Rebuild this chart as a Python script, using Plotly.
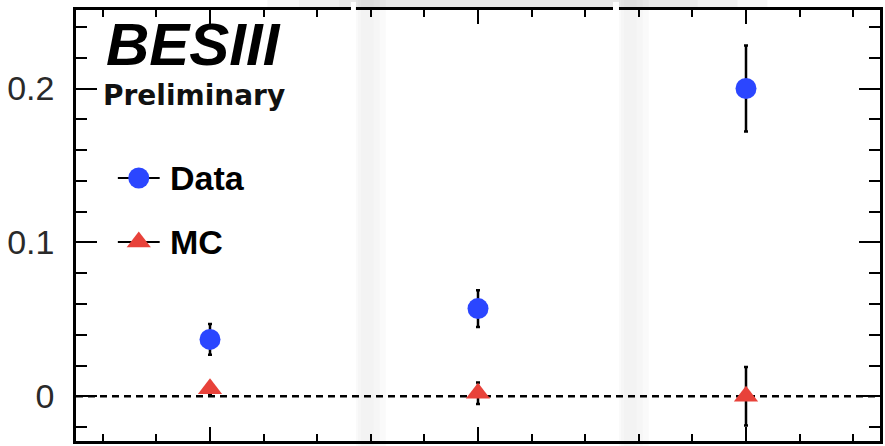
import plotly.graph_objects as go

# ---- data ----
categories = [1, 2, 3]
data_y = [0.037, 0.057, 0.200]
data_err = [0.010, 0.012, 0.028]
mc_y = [0.005, 0.002, 0.000]
mc_err = [0.004, 0.007, 0.019]
y_tickvals = [0.0, 0.1, 0.2]
y_ticktext = ["0", "0.1", "0.2"]

W, H = 885, 446
L, R, T, B = 76, 883, 10, 441  # plot area in pixels

BLUE = "#2b46ff"
RED = "#e8423a"


def px(x):
    return (x - L) / (R - L)


def py(y):
    return (B - y) / (B - T)


fig = go.Figure()

# error bars first (underneath), then the markers on top
for yv, ev in [(data_y, data_err), (mc_y, mc_err)]:
    fig.add_trace(go.Scatter(
        x=categories, y=yv, mode="markers", marker=dict(size=1, opacity=0),
        error_y=dict(type="data", array=ev, color="black", thickness=2.5, width=2),
        showlegend=False, hoverinfo="skip",
    ))
fig.add_trace(go.Scatter(
    x=categories, y=data_y, mode="markers", name="Data",
    marker=dict(symbol="circle", size=21, color=BLUE), showlegend=False,
))
fig.add_trace(go.Scatter(
    x=categories, y=mc_y, mode="markers", name="MC",
    marker=dict(symbol="triangle-up", size=21, color=RED), showlegend=False,
))

# legend markers on a pixel-coordinate overlay axis
legend_items = [("Data", "circle", BLUE, 178, 21), ("MC", "triangle-up", RED, 242, 21)]
for name, sym, col, yy, sz in legend_items:
    fig.add_shape(type="line", xref="x2", yref="y2", x0=118, x1=160, y0=yy, y1=yy,
                  line=dict(color="black", width=2), layer="below")
    fig.add_trace(go.Scatter(x=[139], y=[yy], xaxis="x2", yaxis="y2", mode="markers",
                             marker=dict(symbol=sym, size=sz, color=col), showlegend=False,
                             hoverinfo="skip"))
    fig.add_annotation(x=168, y=yy, xref="x2", yref="y2", text="<b>%s</b>" % name,
                       showarrow=False, xanchor="left", yanchor="middle",
                       font=dict(family="Liberation Sans, Arial", size=34, color="black"))

fig.add_annotation(x=104, y=44, xref="x2", yref="y2", text="<b><i>BESIII</i></b>",
                   showarrow=False, xanchor="left", yanchor="middle",
                   font=dict(family="Liberation Sans, Arial", size=60, color="black"))
fig.add_annotation(x=101, y=95, xref="x2", yref="y2", text="<b>Preliminary</b>",
                   showarrow=False, xanchor="left", yanchor="middle",
                   font=dict(family="DejaVu Sans", size=28, color="#111"))

# zero reference line (below the markers)
fig.add_hline(y=0, line=dict(color="black", width=2.5, dash="7px,5px"), layer="below")

# scan artefacts: faint grey bands, top shadow, white cuts
for x0 in [357, 621]:
    for dx0, dx1, a in [(0, 30, 0.018), (2, 24, 0.014), (5, 18, 0.012)]:
        fig.add_shape(type="rect", xref="paper", yref="paper", x0=px(x0 + dx0),
                      x1=px(x0 + dx1), y0=py(446), y1=py(0),
                      fillcolor="rgba(0,0,0,%g)" % a, line_width=0, layer="below")
for x0, x1, a in [(268, 770, 0.03), (300, 740, 0.03), (340, 700, 0.025)]:
    fig.add_shape(type="rect", xref="paper", yref="paper", x0=px(x0), x1=px(x1),
                  y0=py(9), y1=py(0), fillcolor="rgba(0,0,0,%g)" % a, line_width=0,
                  layer="below")
for x0, x1 in [(352, 357), (615, 621)]:
    fig.add_shape(type="rect", xref="paper", yref="paper", x0=px(x0), x1=px(x1),
                  y0=py(210), y1=py(2), fillcolor="white", line_width=0, layer="above")

fig.update_layout(
    width=W, height=H,
    margin=dict(l=L, r=W - R, t=T, b=H - B, pad=0),
    paper_bgcolor="white", plot_bgcolor="rgba(0,0,0,0)",
    showlegend=False,
    xaxis=dict(range=[0.5, 3.5], showgrid=False, zeroline=False, showline=True,
               linecolor="black", linewidth=2.5, mirror="ticks", ticks="inside",
               ticklen=14, tickwidth=2, tickcolor="black", tickvals=categories,
               showticklabels=False,
               minor=dict(dtick=0.2, tick0=0, ticks="inside", ticklen=7, tickwidth=2,
                          tickcolor="black", showgrid=False)),
    yaxis=dict(range=[-0.029, 0.251], showgrid=False, zeroline=False, showline=True,
               linecolor="black", linewidth=2.5, mirror="ticks", ticks="inside",
               ticklen=21, tickwidth=2, tickcolor="black", tickvals=y_tickvals,
               ticktext=y_ticktext, ticklabelstandoff=12,
               tickfont=dict(family="Liberation Sans, Arial", size=34, color="#2a2a2a"),
               minor=dict(dtick=0.02, tick0=0, ticks="inside", ticklen=11, tickwidth=2,
                          tickcolor="black", showgrid=False)),
    xaxis2=dict(overlaying="x", range=[L, R], visible=False),
    yaxis2=dict(overlaying="y", range=[B, T], visible=False),
)

fig.write_html("out.html")
